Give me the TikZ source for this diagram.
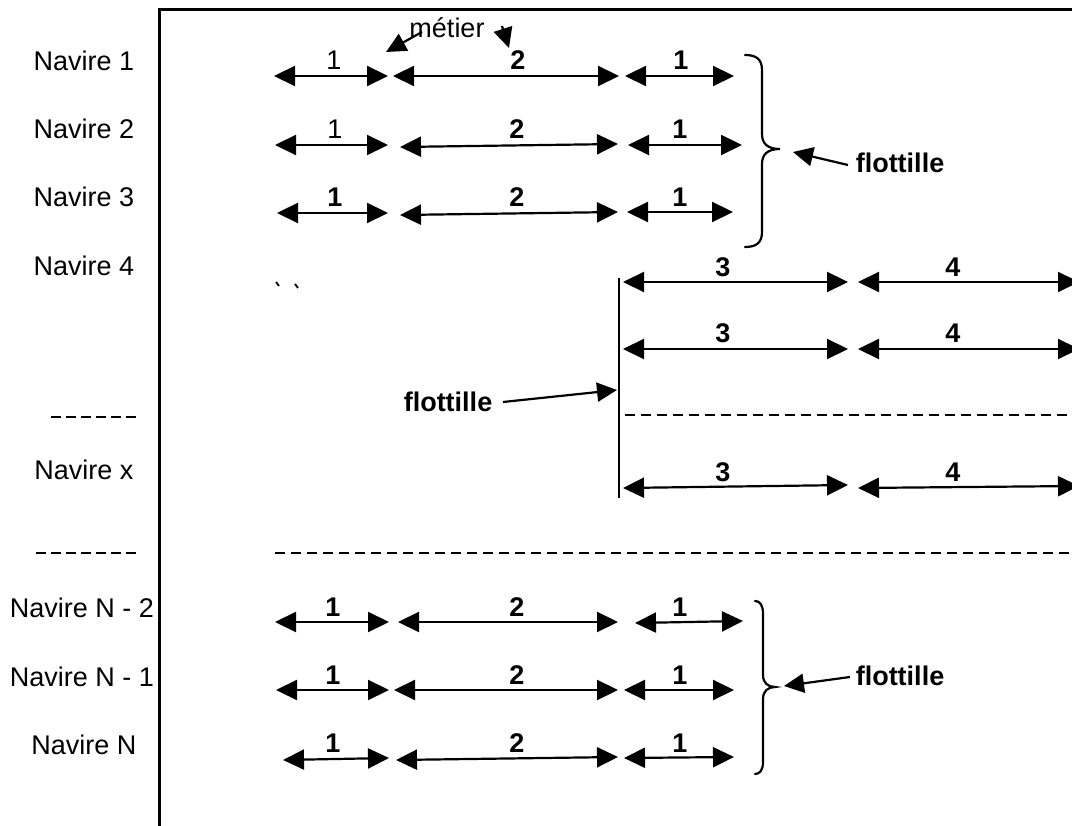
\documentclass[tikz,border=0pt]{standalone}
\usepackage{fontspec}
\setmainfont{Liberation Sans}
\usetikzlibrary{arrows.meta}

% one double-headed span: name, x1, y1, x2, y2, label x, label y, label style, label
\newcommand\spanarrow[9]{%
  \coordinate (#1a) at (#2,#3);
  \coordinate (#1b) at (#4,#5);
  \draw[span] (#1a) -- (#1b);
  \node[#8] (#1t) at (#6,#7) {#9};
}

\begin{document}
\begin{tikzpicture}[x=1pt,y=-1pt,
  txt/.style={inner sep=0pt, font=\fontsize{27}{31}\selectfont},
  num/.style={inner sep=0pt, font=\fontsize{27}{31}\selectfont\bfseries},
  numl/.style={txt},
  span/.style={line width=2.2pt, {Triangle[length=21pt,width=20pt]}-{Triangle[length=21pt,width=20pt]}},
  pointer/.style={line width=2.2pt, -{Triangle[length=20pt,width=19pt]}},
  frameline/.style={line width=3pt, line join=miter},
  bracket/.style={line width=2.2pt, line cap=round},
  sepline/.style={line width=2.2pt, dash pattern=on 10pt off 6pt},
  shortsep/.style={line width=2.2pt, dash pattern=on 10pt off 5pt},
]
\useasboundingbox (0,0) rectangle (1072,826);
\clip (0,0) rectangle (1072,826);

% frame
\draw[frameline] (159,830) -- (159,10) -- (1076,10);

% vessel labels
\node[txt] (n1) at (84,61) {Navire 1};
\node[txt] (n2) at (84,129) {Navire 2};
\node[txt] (n3) at (84,197) {Navire 3};
\node[txt] (n4) at (84,266) {Navire 4};
\node[txt] (nx) at (84,470) {Navire x};
\node[txt] (nn2) at (82,608) {Navire N - 2};
\node[txt] (nn1) at (82,677) {Navire N - 1};
\node[txt] (nn) at (84,745) {Navire N};
\draw[shortsep] (51,417) -- (136,417);
\draw[shortsep] (36,553) -- (136,553);

% first group of vessels
\spanarrow{a1}{274}{76}{388}{76}{334}{60}{numl}{1}
\spanarrow{a2}{393}{76}{619}{76}{518}{60}{num}{2}
\spanarrow{a3}{625}{76}{734}{76}{681}{60}{num}{1}
\spanarrow{b1}{275}{145}{388}{145}{335}{129}{numl}{1}
\spanarrow{b2}{400}{147}{618}{144}{517}{129}{num}{2}
\spanarrow{b3}{628}{145}{742}{145}{680}{129}{num}{1}
\spanarrow{c1}{277}{213}{388}{213}{335}{197}{num}{1}
\spanarrow{c2}{400}{215}{618}{212}{517}{197}{num}{2}
\spanarrow{c3}{627}{212}{733}{212}{680}{197}{num}{1}

% métier pointers
\node[txt] (met) at (447,28) {métier};
\coordinate (meta) at (422,32);
\coordinate (metb) at (386,52);
\draw[pointer] (meta) -- (metb);
\coordinate (metc) at (502,26);
\coordinate (metd) at (509,48);
\draw[pointer] (metc) -- (metd);

% brace of the first fleet
\draw[bracket] (745,55) .. controls (756,55) and (762,59) .. (762,70) -- (762,134)
  .. controls (762,144) and (768,149) .. (780,149)
  .. controls (768,149) and (762,154) .. (762,164) -- (762,232)
  .. controls (762,243) and (756,247) .. (745,247);
\node[num] (fl1) at (900,163) {flottille};
\coordinate (fl1a) at (848,165);
\coordinate (fl1b) at (793,152);
\draw[pointer] (fl1a) -- (fl1b);

% stray marks
\draw[line width=1.8pt] (276,282) -- (279,286);
\draw[line width=1.8pt] (295,284) -- (298,288);

% second fleet
\draw[line width=2.2pt] (619,278) -- (619,498);
\spanarrow{d1}{623}{282}{848}{282}{723}{267}{num}{3}
\spanarrow{d2}{858}{282}{1079}{282}{953}{267}{num}{4}
\spanarrow{e1}{623}{349}{848}{349}{723}{333}{num}{3}
\spanarrow{e2}{858}{349}{1079}{349}{953}{333}{num}{4}
\draw[sepline] (625,415) -- (1072,415);
\spanarrow{g1}{623}{488}{848}{485}{723}{472}{num}{3}
\spanarrow{g2}{858}{488}{1079}{486}{953}{472}{num}{4}
\node[num] (fl2) at (448,402) {flottille};
\coordinate (fl2a) at (503,402);
\coordinate (fl2b) at (617,390);
\draw[pointer] (fl2a) -- (fl2b);

\draw[sepline] (275,553) -- (1072,553);

% last group of vessels
\spanarrow{h1}{275}{622}{389}{622}{333}{607}{num}{1}
\spanarrow{h2}{398}{622}{618}{622}{517}{607}{num}{2}
\spanarrow{h3}{635}{623}{743}{621}{680}{607}{num}{1}
\spanarrow{k1}{276}{690}{389}{690}{333}{675}{num}{1}
\spanarrow{k2}{394}{690}{618}{690}{517}{675}{num}{2}
\spanarrow{k3}{624}{690}{734}{690}{680}{675}{num}{1}
\spanarrow{m1}{283}{760}{389}{758}{333}{743}{num}{1}
\spanarrow{m2}{396}{760}{618}{757}{517}{743}{num}{2}
\spanarrow{m3}{624}{758}{734}{757}{680}{743}{num}{1}

\draw[bracket] (755,601) .. controls (760,601) and (763,605) .. (763,614) -- (763,675)
  .. controls (763,683) and (768,687) .. (775,687)
  .. controls (768,687) and (763,691) .. (763,699) -- (763,762)
  .. controls (763,770) and (760,774) .. (755,774);
\node[num] (fl3) at (900,676) {flottille};
\coordinate (fl3a) at (850,677);
\coordinate (fl3b) at (784,686);
\draw[pointer] (fl3a) -- (fl3b);
\end{tikzpicture}
\end{document}
